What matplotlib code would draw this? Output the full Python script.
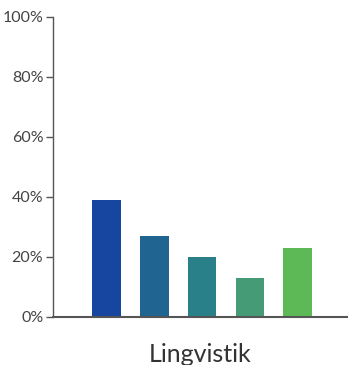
import matplotlib
matplotlib.use("Agg")
import matplotlib.pyplot as plt
import numpy as np
from matplotlib.ticker import PercentFormatter

plt.rcParams['font.family'] = ['Lato', 'DejaVu Sans']

# values (percent)
category = "Lingvistik"
values = [39, 27, 20, 13, 23]
colors = ["#1746a0", "#206592", "#2a8088", "#459b75", "#5cb955"]
yticks = [0, 20, 40, 60, 80, 100]

fig = plt.figure(figsize=(3.48, 3.65), dpi=100)
ax = fig.add_axes([53/348, 48/365, 295/348, 300/365])

x = np.arange(len(values))
ax.bar(x, values, width=0.6, color=colors)

ax.set_ylim(0, 100)
ax.set_xlim(-1.115, 5.05)
ax.set_yticks(yticks)
ax.yaxis.set_major_formatter(PercentFormatter(decimals=0))
ax.tick_params(axis='y', length=5, width=1, color="#555555", labelcolor="#444444",
               labelsize=11.5, pad=2)
ax.set_xticks([])

for s in ["top", "right"]:
    ax.spines[s].set_visible(False)
ax.spines["left"].set_color("#555555")
ax.spines["left"].set_linewidth(1)
ax.spines["bottom"].set_color("#555555")
ax.spines["bottom"].set_linewidth(1.5)

fig.text(200/348, 1 - 355/365, category, ha="center", va="center",
         fontsize=18, color="#333333")

fig.savefig("out.png", dpi=100)
